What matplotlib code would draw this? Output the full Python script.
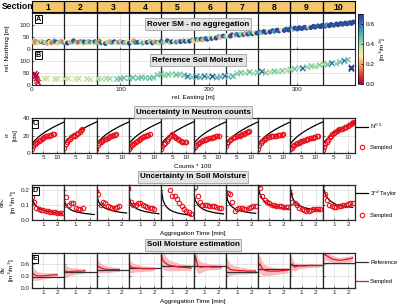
import matplotlib
matplotlib.use("Agg")
import matplotlib.pyplot as plt
import numpy as np
from matplotlib.lines import Line2D
from matplotlib.colors import LinearSegmentedColormap

plt.rcParams['font.family'] = ['Liberation Sans', 'DejaVu Sans']
plt.rcParams['font.size'] = 4.6
plt.rcParams['mathtext.fontset'] = 'dejavusans'

W, H = 400, 308

# ---------------- data ----------------
sections = ['1', '2', '3', '4', '5', '6', '7', '8', '9', '10']
section_edges = [0, 36.5, 73, 109.5, 146, 182.5, 219, 255.5, 292, 328.5, 365]

# Panel A: rover soil moisture (no aggregation)
xA = [1, 3, 4, 6, 8, 10, 11, 13, 15, 17,
      19, 20, 22, 25, 27, 29, 31, 33, 36, 38,
      40, 43, 45, 47, 50, 52, 55, 57, 59, 62,
      64, 66, 69, 71, 73, 76, 78, 81, 83, 85,
      88, 90, 93, 95, 98, 100, 103, 105, 108, 110,
      113, 115, 117, 120, 123, 125, 128, 130, 133, 136,
      138, 141, 143, 146, 148, 151, 153, 156, 158, 161,
      163, 166, 168, 171, 173, 176, 178, 181, 183, 186,
      188, 191, 193, 196, 198, 201, 203, 206, 208, 211,
      213, 216, 219, 221, 224, 226, 229, 231, 234, 236,
      239, 241, 244, 246, 249, 251, 254, 257, 259, 262,
      264, 267, 269, 272, 274, 277, 279, 282, 285, 287,
      290, 292, 295, 297, 300, 302, 305, 308, 310, 313,
      315, 318, 320, 323, 326, 328, 331, 333, 336, 338,
      341, 344, 346, 349, 351, 354, 356, 359, 361, 363]
yA = [28, 24, 31, 26, 22, 29, 33, 25, 27, 21,
      30, 26, 24, 32, 28, 22, 27, 31, 25, 29,
      23, 28, 26, 33, 24, 27, 30, 22, 28, 25,
      31, 27, 23, 29, 26, 32, 24, 28, 21, 27,
      30, 25, 29, 23, 27, 31, 26, 24, 29, 22,
      28, 33, 25, 27, 30, 23, 28, 26, 31, 24,
      29, 27, 22, 30, 26, 28, 33, 25, 29, 31,
      27, 31, 29, 33, 30, 34, 31, 36, 33, 38,
      35, 40, 37, 43, 39, 45, 42, 48, 44, 51,
      47, 53, 50, 56, 52, 58, 55, 60, 57, 62,
      59, 64, 61, 66, 62, 68, 65, 70, 66, 72,
      68, 74, 70, 76, 72, 78, 74, 80, 76, 82,
      78, 84, 80, 86, 82, 88, 84, 90, 86, 92,
      88, 94, 90, 96, 92, 98, 94, 100, 96, 102,
      98, 104, 100, 106, 102, 108, 104, 110, 106, 112]
cA = [0.35, 0.20, 0.15, 0.45, 0.30, 0.10, 0.25, 0.55, 0.40, 0.20,
      0.68, 0.30, 0.15, 0.50, 0.66, 0.25, 0.40, 0.18, 0.55, 0.30,
      0.68, 0.22, 0.45, 0.64, 0.35, 0.12, 0.50, 0.25, 0.66, 0.40,
      0.20, 0.55, 0.30, 0.68, 0.45, 0.15, 0.62, 0.28, 0.66, 0.40,
      0.20, 0.50, 0.68, 0.30, 0.55, 0.22, 0.64, 0.45, 0.25, 0.68,
      0.38, 0.18, 0.55, 0.66, 0.30, 0.50, 0.25, 0.64, 0.42, 0.68,
      0.20, 0.55, 0.35, 0.66, 0.48, 0.25, 0.64, 0.40, 0.68, 0.30,
      0.55, 0.22, 0.66, 0.45, 0.64, 0.30, 0.68, 0.50, 0.25, 0.64,
      0.40, 0.68, 0.20, 0.55, 0.66, 0.35, 0.64, 0.28, 0.68, 0.50,
      0.22, 0.66, 0.45, 0.30, 0.64, 0.68, 0.25, 0.55, 0.66, 0.40,
      0.64, 0.20, 0.68, 0.50, 0.66, 0.30, 0.68, 0.64, 0.45, 0.68,
      0.66, 0.25, 0.68, 0.64, 0.55, 0.68, 0.66, 0.30, 0.68, 0.64,
      0.68, 0.66, 0.40, 0.68, 0.64, 0.68, 0.66, 0.68, 0.64, 0.28,
      0.68, 0.68, 0.66, 0.64, 0.68, 0.68, 0.66, 0.55, 0.68, 0.68,
      0.64, 0.66, 0.68, 0.68, 0.66, 0.68, 0.68, 0.64, 0.68, 0.68]

# Panel B: reference soil moisture
xB = [3, 4, 5, 6, 7, 5, 14, 17, 26, 29,
      37, 41, 49, 53, 62, 66, 75, 79, 84, 88,
      96, 100, 104, 110, 114, 120, 124, 128, 133, 137,
      142, 146, 150, 154, 158, 163, 167, 172, 176, 181,
      186, 190, 195, 199, 204, 209, 213, 218, 222, 227,
      232, 236, 241, 246, 250, 255, 260, 264, 269, 274,
      278, 283, 288, 292, 297, 302, 306, 311, 316, 320,
      325, 330, 334, 339, 344, 348, 353, 357, 361, 361]
yB = [45, 35, 25, 15, 8, 40, 24, 26, 23, 25,
      24, 26, 23, 25, 24, 22, 25, 23, 26, 24,
      23, 25, 28, 26, 29, 27, 30, 28, 27, 29,
      40, 44, 38, 42, 45, 41, 43, 39, 34, 31,
      33, 30, 35, 31, 34, 29, 33, 36, 32, 35,
      46, 50, 48, 53, 47, 51, 55, 49, 52, 56,
      54, 58, 60, 63, 66, 70, 68, 74, 78, 76,
      82, 86, 84, 90, 88, 95, 100, 105, 72, 66]
cB = [0.02, 0.03, 0.05, 0.04, 0.06, 0.02, 0.36, 0.34, 0.37, 0.35,
      0.38, 0.36, 0.33, 0.37, 0.38, 0.36, 0.40, 0.37, 0.39, 0.41,
      0.45, 0.47, 0.46, 0.44, 0.48, 0.46, 0.47, 0.45, 0.48, 0.46,
      0.44, 0.46, 0.42, 0.45, 0.40, 0.48, 0.44, 0.47, 0.60, 0.46,
      0.62, 0.48, 0.60, 0.46, 0.64, 0.50, 0.47, 0.62, 0.45, 0.50,
      0.42, 0.46, 0.40, 0.48, 0.38, 0.45, 0.62, 0.44, 0.40, 0.46,
      0.40, 0.44, 0.38, 0.42, 0.46, 0.40, 0.62, 0.42, 0.45, 0.40,
      0.44, 0.40, 0.46, 0.62, 0.42, 0.46, 0.60, 0.45, 0.68, 0.70]

# Panel C: uncertainty in neutron counts (counts*100 vs sigma)
count_grid = [1, 1.5, 2, 2.5, 3, 3.5, 4, 4.5, 5, 5.5, 6, 6.5, 7, 7.5, 8, 8.5, 9, 9.5, 10, 10.5, 11, 11.5, 12, 12.6]
sigma_C = [
    [5, 8, 10, 12, 13, 14, 15, 16, 17, 18, 19, 20, 20, 21, 21, 22, 22],
    [6, 10, 13, 15, 16, 18, 20, 21, 20, 22, 23, 24, 26, 28],
    [5, 9, 11, 13, 14, 15, 16, 16, 17, 18, 19, 20, 21, 21, 22],
    [5, 7, 9, 10, 11, 13, 14, 15, 16, 17, 18, 19, 20, 21, 21, 22],
    [5, 8, 10, 12, 14, 16, 18, 20, 22, 20, 18, 17, 16, 15, 14, 13, 13, 13, 13],
    [5, 7, 9, 10, 12, 13, 14, 15, 15, 16, 16, 17, 17, 17, 18, 18, 19, 19, 19],
    [8, 11, 13, 15, 16, 17, 18, 18, 19, 20, 20, 21, 22, 22, 23, 24, 24, 25],
    [5, 9, 12, 14, 15, 16, 17, 18, 18, 19, 19, 20, 20, 20, 21, 21, 21, 21, 22],
    [5, 6, 8, 9, 10, 11, 12, 13, 14, 14, 15, 15, 16, 16, 17, 17, 17, 18, 18, 19, 20],
    [3, 7, 10, 13, 15, 18, 20, 22, 23, 24, 25, 26, 27, 27, 28, 29, 30, 30, 31, 32, 33, 34, 35],
]

# Panels D/E: aggregation times [min]
agg_time = [0.17, 0.33, 0.5, 0.67, 0.83, 1.0, 1.17, 1.33, 1.5, 1.67, 1.83, 2.0, 2.17, 2.33]

taylor_D = [
    [0.160, 0.113, 0.092, 0.080, 0.071, 0.065, 0.060, 0.056, 0.053, 0.050, 0.047, 0.045, 0.043, 0.041],
    [0.135, 0.096, 0.078, 0.067, 0.060, 0.055, 0.051, 0.048, 0.045, 0.043, 0.041, 0.039, 0.037, 0.036],
    [0.180, 0.121, 0.099, 0.086, 0.077, 0.070, 0.065, 0.061, 0.057, 0.054, 0.052, 0.049, 0.048, 0.046],
    [0.170, 0.113, 0.092, 0.080, 0.071, 0.065, 0.060, 0.056, 0.053, 0.050, 0.047, 0.045, 0.043, 0.041],
    [0.220, 0.130, 0.095, 0.078, 0.066, 0.058, 0.052, 0.047, 0.043, 0.040, 0.037, 0.035, 0.033, 0.031],
    [0.200, 0.130, 0.100, 0.085, 0.074, 0.066, 0.060, 0.056, 0.052, 0.049, 0.046, 0.044, 0.042, 0.040],
    [0.210, 0.130, 0.100, 0.085, 0.075, 0.068, 0.062, 0.058, 0.055, 0.052, 0.049, 0.047, 0.045, 0.044],
    [0.230, 0.170, 0.140, 0.120, 0.110, 0.100, 0.095, 0.090, 0.086, 0.083, 0.080, 0.078, 0.076, 0.074],
    [0.220, 0.150, 0.120, 0.105, 0.095, 0.088, 0.082, 0.078, 0.075, 0.072, 0.070, 0.068, 0.066, 0.065],
    [0.250, 0.180, 0.150, 0.130, 0.120, 0.110, 0.100, 0.097, 0.094, 0.091, 0.089, 0.087, 0.085, 0.083],
]
sampled_D = [
    [0.15, 0.12, 0.08, 0.07, 0.068, 0.065, 0.06, 0.058, 0.055, 0.05, 0.05, 0.048, 0.047, 0.045],
    [0.10, 0.15, 0.10, 0.11, 0.11, 0.08, 0.075, 0.075, 0.08],
    [0.19, 0.17, 0.10, 0.12, 0.11, 0.09, 0.085, 0.08, 0.08, 0.085, 0.09],
    [0.21, 0.12, 0.10, 0.10, 0.11, 0.11, 0.10, 0.09, 0.085, 0.08, 0.078, 0.075],
    [0.30, 0.28, 0.26, 0.24, 0.20, 0.16, 0.16, 0.14, 0.11, 0.09, 0.07, 0.06, 0.05, 0.04],
    [0.25, 0.22, 0.16, 0.12, 0.10, 0.10, 0.10, 0.095, 0.095, 0.09, 0.085, 0.08, 0.08],
    [0.18, 0.18, 0.17, 0.12, 0.06, 0.07, 0.08, 0.08, 0.075, 0.075, 0.08, 0.085, 0.09, 0.09],
    [0.23, 0.21, 0.16, 0.13, 0.12, 0.11, 0.10, 0.10, 0.095, 0.09, 0.09, 0.085, 0.085, 0.085],
    [0.17, 0.12, 0.11, 0.10, 0.08, 0.07, 0.065, 0.06, 0.06, 0.065, 0.07, 0.075, 0.075, 0.075],
    [0.23, 0.17, 0.13, 0.10, 0.09, 0.085, 0.085, 0.09, 0.095, 0.10, 0.10, 0.105, 0.11, 0.11],
]

reference_E = [0.28, 0.40, 0.45, 0.50, 0.55, 0.55, 0.40, 0.47, 0.58, 0.62]
mean_E = [
    [0.40, 0.34, 0.31, 0.30, 0.30, 0.30, 0.31, 0.31, 0.32, 0.32, 0.33, 0.33],
    [0.45, 0.41, 0.40, 0.41, 0.41, 0.42, 0.42, 0.42, 0.42, 0.43],
    [0.60, 0.53, 0.50, 0.48, 0.47, 0.46, 0.46, 0.46, 0.46, 0.46, 0.46],
    [0.62, 0.52, 0.50, 0.50, 0.49, 0.49, 0.48, 0.48, 0.48, 0.48, 0.48, 0.48],
    [0.85, 0.68, 0.62, 0.58, 0.56, 0.55, 0.54, 0.53, 0.52, 0.52, 0.51, 0.51, 0.50, 0.50],
    [0.05, 0.80, 0.55, 0.52, 0.52, 0.53, 0.53, 0.53, 0.52, 0.52, 0.52, 0.52, 0.52],
    [0.55, 0.52, 0.46, 0.45, 0.44, 0.44, 0.43, 0.43, 0.43, 0.42, 0.42, 0.42, 0.42, 0.42],
    [0.50, 0.60, 0.48, 0.44, 0.43, 0.42, 0.42, 0.42, 0.42, 0.42, 0.43, 0.43, 0.44, 0.44],
    [0.53, 0.60, 0.52, 0.54, 0.55, 0.55, 0.55, 0.55, 0.56, 0.56, 0.56, 0.56, 0.56, 0.56],
    [0.78, 0.84, 0.80, 0.76, 0.73, 0.71, 0.70, 0.69, 0.69, 0.70, 0.71, 0.72, 0.73, 0.75],
]
band_E = [
    [0.22, 0.15, 0.12, 0.10, 0.09, 0.08, 0.07, 0.07, 0.06, 0.06, 0.05, 0.05],
    [0.20, 0.15, 0.12, 0.10, 0.09, 0.08, 0.07, 0.06, 0.06, 0.05],
    [0.22, 0.15, 0.12, 0.10, 0.09, 0.08, 0.07, 0.06, 0.06, 0.05, 0.05],
    [0.22, 0.15, 0.12, 0.10, 0.09, 0.08, 0.07, 0.07, 0.06, 0.06, 0.05, 0.05],
    [0.30, 0.22, 0.18, 0.15, 0.13, 0.12, 0.11, 0.10, 0.09, 0.08, 0.08, 0.07, 0.07, 0.06],
    [0.40, 0.30, 0.20, 0.15, 0.12, 0.10, 0.09, 0.08, 0.07, 0.07, 0.06, 0.06, 0.06],
    [0.25, 0.20, 0.15, 0.13, 0.11, 0.10, 0.09, 0.08, 0.08, 0.07, 0.07, 0.06, 0.06, 0.06],
    [0.25, 0.22, 0.18, 0.15, 0.12, 0.11, 0.10, 0.09, 0.08, 0.08, 0.07, 0.07, 0.07, 0.06],
    [0.35, 0.15, 0.10, 0.08, 0.07, 0.06, 0.06, 0.05, 0.05, 0.05, 0.05, 0.05, 0.04, 0.04],
    [0.60, 0.15, 0.12, 0.10, 0.09, 0.08, 0.08, 0.07, 0.07, 0.07, 0.07, 0.07, 0.07, 0.07],
]

# ---------------- figure ----------------
fig = plt.figure(figsize=(W / 100, H / 100), dpi=100)


def rect(x0, y0, x1, y1):
    return [x0 / W, 1 - y1 / H, (x1 - x0) / W, (y1 - y0) / H]


SP = '#262626'
GRID = '#dcdcdc'
GOLD = '#F4C56A'
RED = '#e8131f'
PINK = '#f7b5b9'
cmap = LinearSegmentedColormap.from_list('sm', [
    (0.00, '#9e0142'), (0.14, '#e0453a'), (0.28, '#f9a45a'), (0.40, '#fdeea0'),
    (0.55, '#b4e0a0'), (0.68, '#5cbfa8'), (0.82, '#3288bd'), (1.00, '#2b3990')])
VMAX = 0.7
LEFT, RIGHT = 32, 355
FS = 4.6


def style(ax, lw=0.8):
    for s in ax.spines.values():
        s.set_color(SP)
        s.set_linewidth(lw)
    ax.tick_params(direction='in', length=1.5, width=0.5, pad=1.5, labelsize=FS, colors=SP)
    ax.grid(True, color=GRID, lw=0.5)
    ax.set_axisbelow(True)


def title_box(xc, yc, txt):
    fig.text(xc / W, 1 - yc / H, txt, ha='center', va='center', fontsize=5.8, fontweight='bold',
             bbox=dict(boxstyle='square,pad=0.25', facecolor='#e4e4e4', edgecolor='#a0a0a0', lw=0.6))


def letter(ax, t):
    ax.text(0.012, 0.93, t, transform=ax.transAxes, ha='left', va='top', fontsize=5.2, fontweight='bold',
            bbox=dict(boxstyle='square,pad=0.12', facecolor='white', edgecolor='black', lw=0.7), zorder=10)


def side_legend(handles, labels, yc):
    fig.legend(handles=handles, labels=labels, loc='center left', bbox_to_anchor=(355 / W, 1 - yc / H),
               frameon=False, fontsize=4.2, labelspacing=2.4, handlelength=2.0, handletextpad=0.4,
               borderpad=0.1, borderaxespad=0.1)


# Section header
axh = fig.add_axes(rect(LEFT, 1, RIGHT, 12))
axh.set_xlim(section_edges[0], section_edges[-1])
axh.set_ylim(0, 1)
axh.set_facecolor(GOLD)
for e in section_edges[1:-1]:
    axh.axvline(e, color='black', lw=1.0)
for i, s in enumerate(sections):
    axh.text((section_edges[i] + section_edges[i + 1]) / 2, 0.45, s, ha='center', va='center',
             fontsize=6.2, fontweight='bold')
axh.set_xticks([])
axh.set_yticks([])
for s in axh.spines.values():
    s.set_linewidth(0.8)
fig.text(2 / W, 1 - 6.5 / H, 'Section', ha='left', va='center', fontsize=6.2, fontweight='bold')

# Panels A and B
axA = fig.add_axes(rect(LEFT, 13, RIGHT, 49))
axB = fig.add_axes(rect(LEFT, 49, RIGHT, 85))
for ax, lab in ((axA, 'A'), (axB, 'B')):
    style(ax)
    ax.set_xlim(0, 365)
    ax.set_ylim(-2, 150)
    ax.set_yticks([0, 50, 100])
    ax.set_xticks([0, 100, 200, 300])
    for e in section_edges[1:-1]:
        ax.axvline(e, color='#222222', lw=0.9, zorder=1)
    letter(ax, lab)
axA.tick_params(labelbottom=False)
sc = axA.scatter(xA, yA, c=cA, cmap=cmap, vmin=0, vmax=VMAX, s=12, marker='o', linewidths=0, zorder=3)
axB.scatter(xB, yB, c=cB, cmap=cmap, vmin=0, vmax=VMAX, s=15, marker='x', linewidths=1.0, zorder=3)
title_box(198, 24, 'Rover SM - no aggregation')
title_box(198, 60, 'Reference Soil Moisture')
fig.text(193 / W, 1 - 97 / H, 'rel. Easting [m]', ha='center', va='center', fontsize=FS)
fig.text(8 / W, 1 - 48 / H, 'rel. Northing [m]', ha='center', va='center', fontsize=FS, rotation=90)

cax = fig.add_axes(rect(358, 14, 363, 84))
cb = fig.colorbar(sc, cax=cax, ticks=[0, 0.2, 0.4, 0.6])
cb.ax.tick_params(labelsize=FS, length=1.5, width=0.5, direction='in', pad=2)
cb.outline.set_linewidth(0.5)
cb.set_label('[m$^3$/m$^3$]', fontsize=FS, labelpad=2)

# Rows C, D, E
SW = (RIGHT - LEFT) / 10


def row(y0, y1):
    axs = []
    for i in range(10):
        ax = fig.add_axes(rect(LEFT + i * SW, y0, LEFT + (i + 1) * SW, y1))
        style(ax, lw=0.9)
        axs.append(ax)
    return axs


# C
axC = row(118, 153)
grid_arr = np.array(count_grid)
for i, ax in enumerate(axC):
    n = len(sigma_C[i])
    ax.plot(grid_arr, np.sqrt(grid_arr * 100), color='black', lw=0.9)
    ax.plot(count_grid[:n], sigma_C[i], 'o', ms=3.2, mfc='none', mec=RED, mew=0.8)
    ax.set_xlim(1.05, 12.6)
    ax.set_ylim(0, 40)
    ax.set_xticks([5, 10])
    ax.set_yticks([0, 20, 40])
    if i > 0:
        ax.tick_params(labelleft=False)
letter(axC[0], 'C')
title_box(193, 112, 'Uncertainty in Neutron counts')
fig.text(193 / W, 1 - 166 / H, 'Counts * 100', ha='center', va='center', fontsize=FS)
fig.text(11 / W, 1 - 135 / H, 'σ\n[cts]', ha='center', va='center', fontsize=FS, rotation=90, linespacing=1.6)
side_legend([Line2D([], [], color='black', lw=0.9),
             Line2D([], [], ls='none', marker='o', ms=3.2, mfc='none', mec=RED, mew=0.8)],
            ['N$^{0.5}$', 'Sampled'], 136)

# D
axD = row(185, 220)
for i, ax in enumerate(axD):
    ax.plot(agg_time, taylor_D[i], color='black', lw=0.9)
    ax.plot(agg_time[:len(sampled_D[i])], sampled_D[i], 'o', ms=3.2, mfc='none', mec=RED, mew=0.8)
    ax.set_xlim(0.2, 2.5)
    ax.set_ylim(0, 0.23)
    ax.set_xticks([1, 2])
    ax.set_yticks([0, 0.1, 0.2])
    if i > 0:
        ax.tick_params(labelleft=False)
letter(axD[0], 'D')
title_box(193, 177, 'Uncertainty in Soil Moisture')
fig.text(193 / W, 1 - 233 / H, 'Aggregation Time [min]', ha='center', va='center', fontsize=FS)
fig.text(9 / W, 1 - 202 / H, 'σ$_{θv}$\n[m$^3$/m$^3$]', ha='center', va='center', fontsize=FS, rotation=90)
side_legend([Line2D([], [], color='black', lw=0.9),
             Line2D([], [], ls='none', marker='o', ms=3.2, mfc='none', mec=RED, mew=0.8)],
            ['3$^{rd}$ Taylor', 'Sampled'], 203)

# E
axE = row(253, 288)
for i, ax in enumerate(axE):
    n = len(mean_E[i])
    t = np.array(agg_time[:n])
    m = np.array(mean_E[i])
    b = np.array(band_E[i])
    ax.fill_between(t, m - b, m + b, color=PINK, lw=0, alpha=0.9)
    ax.axhline(reference_E[i], color='#333333', lw=0.9)
    ax.plot(t, m, color=RED, lw=0.9)
    ax.set_xlim(0.2, 2.5)
    ax.set_ylim(0, 0.87)
    ax.set_xticks([1, 2])
    ax.set_yticks([0, 0.3, 0.6])
    if i > 0:
        ax.tick_params(labelleft=False)
letter(axE[0], 'E')
title_box(193, 245, 'Soil Moisture estimation')
fig.text(193 / W, 1 - 302 / H, 'Aggregation Time [min]', ha='center', va='center', fontsize=FS)
fig.text(9 / W, 1 - 270 / H, 'θv\n[m$^3$/m$^3$]', ha='center', va='center', fontsize=FS, rotation=90)
side_legend([Line2D([], [], color='#333333', lw=0.9), Line2D([], [], color=RED, lw=0.9)],
            ['Reference', 'Sampled'], 272)

fig.savefig('out.png', dpi=100)
